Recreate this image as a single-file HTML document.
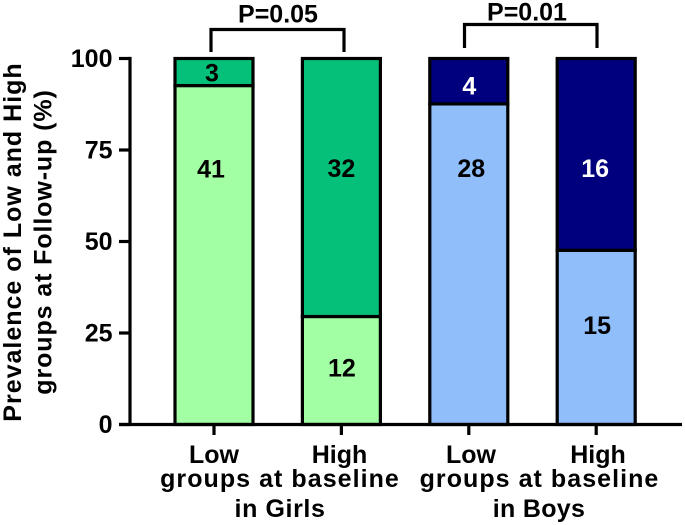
<!DOCTYPE html>
<html>
<head>
<meta charset="utf-8">
<style>
html,body{margin:0;padding:0;background:#fff;width:685px;height:525px;overflow:hidden}
svg{display:block}
text{font-family:"Liberation Sans",Arial,sans-serif;font-weight:bold;fill:#000}
</style>
</head>
<body>
<svg id="chart" width="685" height="525" viewBox="0 0 685 525" xmlns="http://www.w3.org/2000/svg">
  <g font-size="25">
    <text letter-spacing="1" text-anchor="middle" transform="translate(21,242) rotate(-90)">Prevalence of Low and High</text>
    <text letter-spacing="0.9" text-anchor="middle" transform="translate(51.5,242) rotate(-90)">groups at Follow-up (%)</text>
  </g>
  <g id="bars"></g>
  <g id="axes"></g>
  <g font-size="25" text-anchor="middle">
    <text x="214" y="463">Low</text>
    <text x="339.5" y="463">High</text>
    <text x="280" y="487" letter-spacing="1.05">groups at baseline</text>
    <text x="280" y="517" letter-spacing="0.6">in Girls</text>
  </g>
  <g font-size="25" text-anchor="middle">
    <text x="471" y="463">Low</text>
    <text x="598" y="463">High</text>
    <text x="539.5" y="487" letter-spacing="1.05">groups at baseline</text>
    <text x="539" y="517" letter-spacing="0.3">in Boys</text>
  </g>
  <g>
    <path d="M211 52V29.5H344V52" fill="none" stroke="#000" stroke-width="3.2"/>
    <text x="278" y="22.7" font-size="25" text-anchor="middle">P=0.05</text>
  </g>
  <g>
    <path d="M464.5 48V24.5H597V48" fill="none" stroke="#000" stroke-width="3.2"/>
    <text x="527" y="20.7" font-size="25" text-anchor="middle">P=0.01</text>
  </g>
</svg>
<script>
var categories = ['girls-low', 'girls-high', 'boys-low', 'boys-high'];
var lowValues = [92.6, 29.5, 87.6, 47.6];
var highValues = [7.4, 70.5, 12.4, 52.4];
var lowCounts = ['41', '12', '28', '15'];
var highCounts = ['3', '32', '4', '16'];
var yTickValues = [0, 25, 50, 75, 100];

var NS = 'http://www.w3.org/2000/svg';
var lowColors = ['#A3FFA3', '#A3FFA3', '#90BEFA', '#90BEFA'];
var highColors = ['#05C078', '#05C078', '#00007F', '#00007F'];
var highTextColors = ['#000', '#000', '#fff', '#fff'];
var lowLabelPlace = [0.755, 0.53, 0.80, 0.57];
var highLabelPlace = [0.48, 0.575, 0.40, 0.43];
var lowLabelNudge = [-3, 0.5, 2.5, 1];
var highLabelNudge = [-2, 0, 0.5, -1];

function yScale(v) { return 424.5 - v * 3.66; }
function xScale(i) { return 214 + i * 127.4; }

function make(tag, attrs, parent) {
  var el = document.createElementNS(NS, tag);
  for (var k in attrs) { el.setAttribute(k, attrs[k]); }
  parent.appendChild(el);
  return el;
}

var barsG = document.getElementById('bars');
var axesG = document.getElementById('axes');
var BAR_W = 78;

categories.forEach(function (cat, i) {
  var cx = xScale(i);
  var lowTop = yScale(lowValues[i]);
  var highTop = yScale(lowValues[i] + highValues[i]);
  var base = yScale(0);

  var low = make('rect', {x: cx - BAR_W / 2, y: lowTop, width: BAR_W, height: base - lowTop, fill: lowColors[i], stroke: '#000', 'stroke-width': 3.2}, barsG);
  
  

  var high = make('rect', {x: cx - BAR_W / 2, y: highTop, width: BAR_W, height: lowTop - highTop, fill: highColors[i], stroke: '#000', 'stroke-width': 3.2}, barsG);
  
  

  var lowText = make('text', {x: cx + lowLabelNudge[i], y: base - (base - lowTop) * lowLabelPlace[i] + 9, 'font-size': 25, 'text-anchor': 'middle'}, barsG);
  
  
  lowText.textContent = lowCounts[i];

  var highText = make('text', {x: cx + highLabelNudge[i], y: lowTop - (lowTop - highTop) * highLabelPlace[i] + 9, 'font-size': 25, 'text-anchor': 'middle'}, barsG);
  
  
  highText.style.fill = highTextColors[i];
  highText.textContent = highCounts[i];

  var tick = make('line', {x1: cx, x2: cx, y1: base, y2: 435, stroke: '#000', 'stroke-width': 3.2}, axesG);
  
  
});

var yAxis = make('line', {x1: 130, x2: 130, y1: yScale(100) - 1.6, y2: yScale(0), stroke: '#000', 'stroke-width': 3.2}, axesG);



var xAxis = make('line', {x1: 119, x2: 682, y1: yScale(0), y2: yScale(0), stroke: '#000', 'stroke-width': 3.2}, axesG);



yTickValues.forEach(function (v) {
  var y = yScale(v);
  var t = make('line', {x1: 119, x2: 130, y1: y, y2: y, stroke: '#000', 'stroke-width': 3.2}, axesG);
  
  
  var label = make('text', {x: 112.5, y: y + 8.7, 'font-size': 25, 'text-anchor': 'end'}, axesG);
  
  
  label.textContent = String(v);
});
</script>
</body>
</html>
